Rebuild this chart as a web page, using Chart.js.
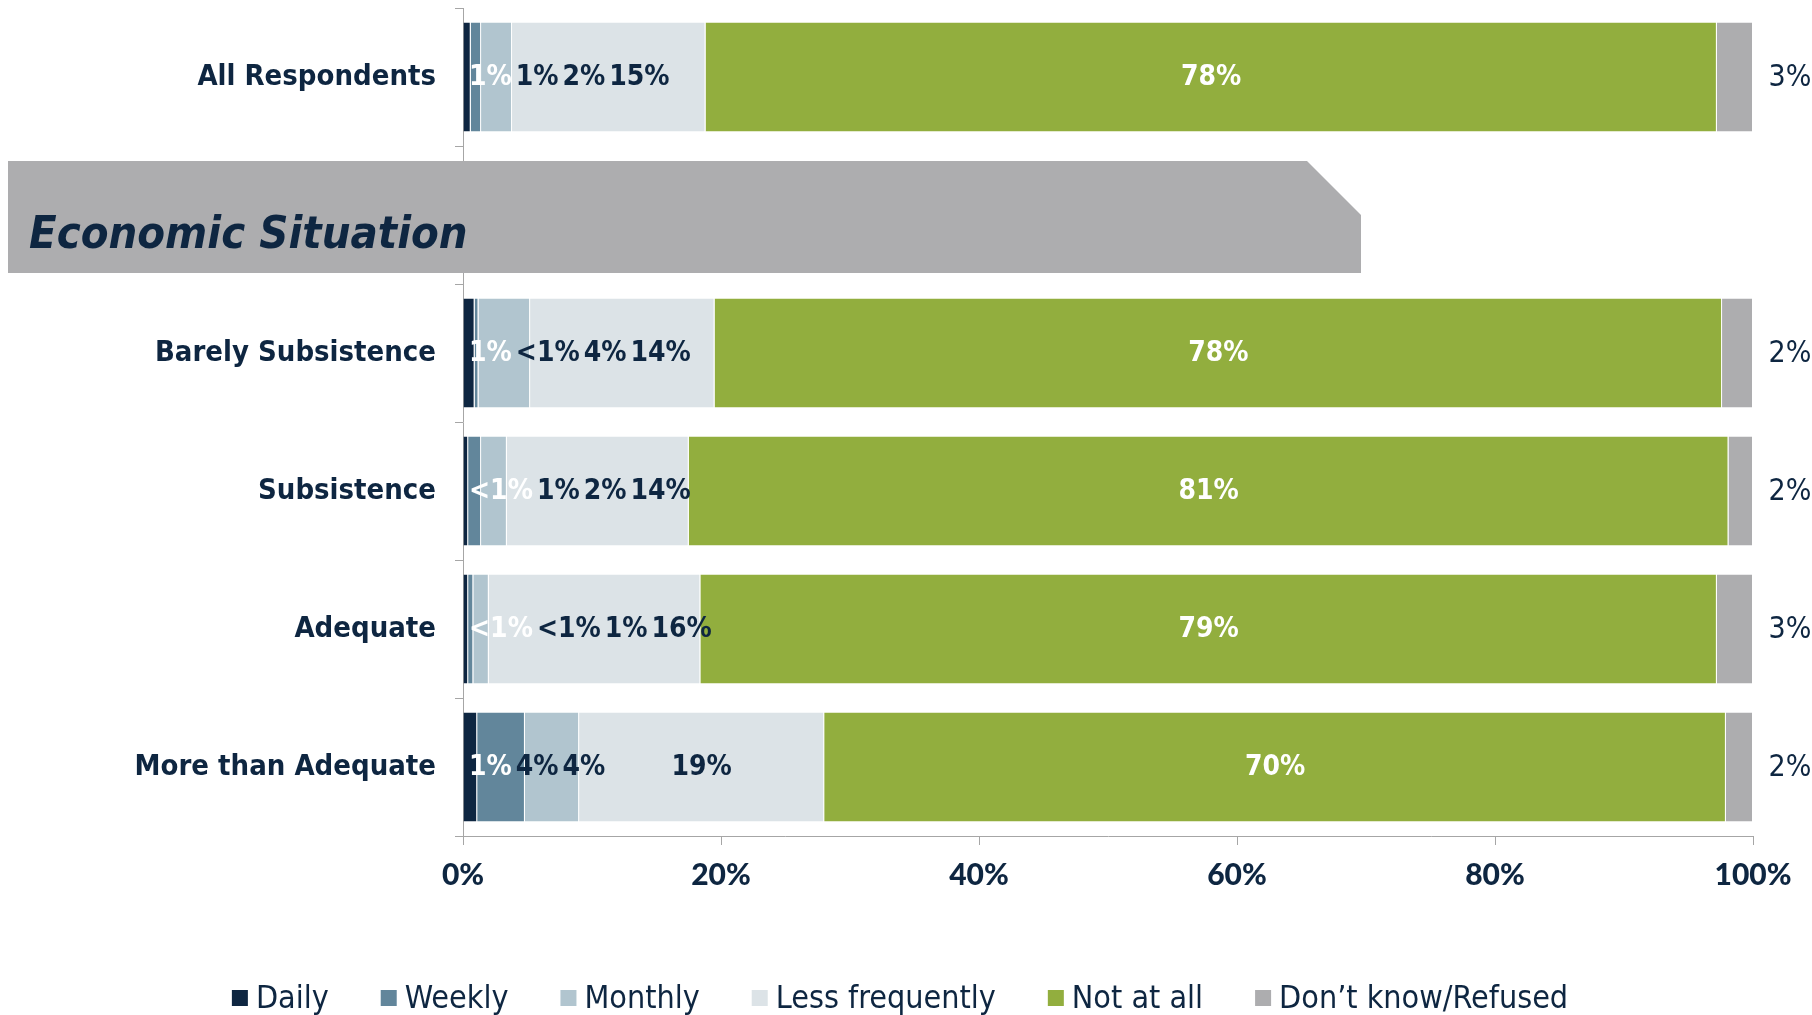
<!DOCTYPE html>
<html>
<head>
<meta charset="utf-8">
<script src="https://cdn.jsdelivr.net/npm/chart.js@4.4.1/dist/chart.umd.min.js"></script>
<style>
  html, body { margin: 0; padding: 0; background: #ffffff; }
  #wrap { width: 1812px; height: 1015px; position: relative; }
</style>
</head>
<body>
<div id="wrap"><canvas id="chart" width="1812" height="1015"></canvas></div>
<script>
// Rows of the chart; the empty row holds the section header band.
const categories = ['All Respondents', '', 'Barely Subsistence', 'Subsistence', 'Adequate', 'More than Adequate'];
const sectionTitle = 'Economic Situation';
const sectionRow = 1;

const seriesNames = ['Daily', 'Weekly', 'Monthly', 'Less frequently', 'Not at all', 'Don\u2019t know/Refused'];

// Share of respondents (%) per row
const daily          = [0.6, null, 0.9, 0.4, 0.4, 1.1];
const weekly         = [0.8, null, 0.3, 1.0, 0.4, 3.7];
const monthly        = [2.4, null, 4.0, 2.0, 1.2, 4.2];
const lessFrequently = [15.0, null, 14.3, 14.1, 16.4, 19.0];
const notAtAll       = [78.4, null, 78.1, 80.6, 78.8, 69.9];
const dontKnow       = [2.8, null, 2.4, 1.9, 2.8, 2.1];

const xTicks = [0, 20, 40, 60, 80, 100];

const NAVY = '#0e2641';
const seriesColors = ['#0e2641', '#62869b', '#b1c5cf', '#dce3e7', '#92ae3e', '#adadaf'];
const labelColors  = ['#ffffff', NAVY, NAVY, NAVY, '#ffffff', NAVY];

const COND = '"DejaVu Sans Condensed", "DejaVu Sans", sans-serif';

function pctLabel(v) {
  if (v === null || v === undefined) return '';
  return v < 0.5 ? '<1%' : Math.round(v) + '%';
}

const allSeries = [daily, weekly, monthly, lessFrequently, notAtAll, dontKnow];

const datasets = allSeries.map((vals, i) => ({
  label: seriesNames[i],
  data: vals,
  backgroundColor: seriesColors[i],
  borderColor: 'rgba(255,255,255,0.7)',
  borderWidth: { left: 0, right: 1, top: 0, bottom: 0 },
  borderSkipped: false,
  barPercentage: 0.79,
  categoryPercentage: 1.0
}));

// Header band drawn across the empty row
const sectionBand = {
  id: 'sectionBand',
  afterDraw(chart) {
    const ctx = chart.ctx;
    const y = chart.scales.y;
    const slot = Math.abs(y.getPixelForValue(1) - y.getPixelForValue(0));
    const cy = y.getPixelForValue(sectionRow) + 2;
    const top = cy - slot * 0.405;
    const bot = cy + slot * 0.405;
    const left = 8, right = 1361, cut = 54;
    ctx.save();
    ctx.fillStyle = '#adadaf';
    ctx.beginPath();
    ctx.moveTo(left, top);
    ctx.lineTo(right - cut, top);
    ctx.lineTo(right, top + cut);
    ctx.lineTo(right, bot);
    ctx.lineTo(left, bot);
    ctx.closePath();
    ctx.fill();
    ctx.fillStyle = NAVY;
    ctx.font = 'italic bold 45px ' + COND;
    ctx.textAlign = 'left';
    ctx.textBaseline = 'alphabetic';
    ctx.fillText(sectionTitle, 29, cy + 31);
    ctx.restore();
  }
};

// Value labels: small segments are nudged right so they do not overlap
const valueLabels = {
  id: 'valueLabels',
  afterDatasetsDraw(chart) {
    const ctx = chart.ctx;
    const area = chart.chartArea;
    ctx.save();
    ctx.textBaseline = 'middle';
    categories.forEach((cat, row) => {
      let prevEnd = area.left + 2;
      chart.data.datasets.forEach((ds, di) => {
        const v = ds.data[row];
        if (v === null || v === undefined) return;
        const bar = chart.getDatasetMeta(di).data[row];
        const text = pctLabel(v);
        const cy = bar.y + 1;
        if (di === 5) {
          ctx.font = '30px ' + COND;
          ctx.fillStyle = labelColors[di];
          ctx.textAlign = 'center';
          ctx.fillText(text, area.right + 37, cy);
          return;
        }
        ctx.font = 'bold 28px ' + COND;
        const w = ctx.measureText(text).width;
        const segCenter = (bar.base + bar.x) / 2;
        let start = segCenter - w / 2;
        if (di < 4) start = Math.max(start, prevEnd + 4);
        prevEnd = start + w;
        ctx.fillStyle = labelColors[di];
        ctx.textAlign = 'left';
        ctx.fillText(text, start, cy);
      });
    });
    ctx.restore();
  }
};

// Legend row along the bottom edge
const bottomLegend = {
  id: 'bottomLegend',
  afterDraw(chart) {
    const ctx = chart.ctx;
    ctx.save();
    ctx.font = '32px ' + COND;
    ctx.textBaseline = 'middle';
    ctx.textAlign = 'left';
    const box = 16, gapIn = 8, gapOut = 52;
    const widths = seriesNames.map(n => box + gapIn + ctx.measureText(n).width);
    const total = widths.reduce((a, b) => a + b, 0) + gapOut * (widths.length - 1);
    let x = 900 - total / 2;
    const cy = 998;
    seriesNames.forEach((n, i) => {
      ctx.fillStyle = seriesColors[i];
      ctx.fillRect(x, cy - box / 2, box, box);
      ctx.fillStyle = NAVY;
      ctx.fillText(n, x + box + gapIn, cy + 2);
      x += widths[i] + gapOut;
    });
    ctx.restore();
  }
};

new Chart(document.getElementById('chart'), {
  type: 'bar',
  data: { labels: categories, datasets },
  options: {
    indexAxis: 'y',
    responsive: false,
    animation: false,
    devicePixelRatio: 1,
    layout: { padding: { left: 0, right: 59, top: 8, bottom: 109 } },
    plugins: {
      legend: { display: false },
      tooltip: { enabled: false },
      title: { display: false }
    },
    scales: {
      x: {
        stacked: true,
        min: 0,
        max: 100,
        afterBuildTicks(scale) { scale.ticks = xTicks.map(v => ({ value: v })); },
        afterFit(scale) { scale.height = 70; scale.paddingLeft = 0; scale.paddingRight = 0; },
        grid: { drawOnChartArea: false, drawTicks: true, tickLength: 9, color: '#a6a6a6' },
        border: { display: true, color: '#a6a6a6', width: 1 },
        ticks: {
          padding: 12,
          color: NAVY,
          font: { family: 'Lato', weight: 900, size: 30 },
          callback: v => v + '%'
        }
      },
      y: {
        stacked: true,
        afterFit(scale) { scale.width = 463; scale.paddingTop = 0; scale.paddingBottom = 0; },
        grid: { drawOnChartArea: false, drawTicks: true, tickLength: 8, color: '#a6a6a6', offset: true },
        border: { display: true, color: '#a6a6a6', width: 1 },
        ticks: {
          padding: 19,
          color: NAVY,
          font: { family: COND, weight: 'bold', size: 29 }
        }
      }
    }
  },
  plugins: [sectionBand, valueLabels, bottomLegend]
});
</script>
</body>
</html>
